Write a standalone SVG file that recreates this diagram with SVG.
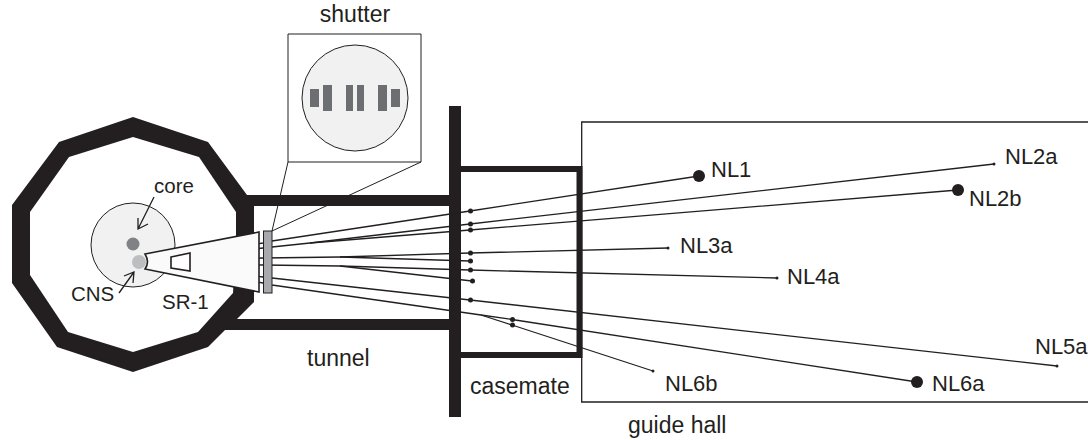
<svg xmlns="http://www.w3.org/2000/svg" width="1088" height="440" viewBox="0 0 1088 440">
<style>
text{font-family:"Liberation Sans",Arial,sans-serif;font-size:22px;fill:#231f20}
.s{font-size:20.5px}
.m{font-size:23px}
.l{stroke:#231f20;stroke-width:1.3;fill:none}
.t{stroke:#231f20;stroke-width:1;fill:none}
.d{fill:#231f20}
.k{fill:#231f20}
.b{fill:#6d6e71}
</style>
<rect width="1088" height="440" fill="#fff"/>
<g id="reactor">
<polygon class="k" points="133,117 208,142 247,195 452,195 452,330 225,330 208,347 133,372 57,347 12,283 12,205 59,142"/>
<polygon fill="#fff" points="133,137 199,157 236,212 236,240 233,293 198,332 133,352 68,332 30,275 30,212 69,157"/>
<polygon fill="#fff" points="254,206 452,206 452,319 237,319 254,302"/>
<circle cx="133" cy="245" r="42" fill="#f1f1f2" stroke="#231f20" stroke-width="1"/>
<circle cx="133" cy="244" r="6.500" fill="#808285"/>
</g>
<g id="guide-hall">
<polyline class="l" points="1088,122 581.700,122 581.700,402 1088,402"/>
</g>
<g id="casemate">
<rect x="449" y="106" width="12" height="311" class="k"/>
<rect x="458" y="169" width="121.500" height="186" fill="none" stroke="#231f20" stroke-width="6"/>
</g>
<g id="connectors">
<polyline class="l" points="193,254 263,243 272,241 470,211 699,176"/>
<polyline class="l" points="193,256 263,248 272,247 310,243 470,224 994,164"/>
<polyline class="l" points="310,243 470,230 958,190"/>
<polyline class="l" points="193,260 263,258 340,257 470,253 668,248"/>
<polyline class="l" points="340,257 470,261"/>
<polyline class="l" points="193,264 263,265 340,266 470,270 777,278"/>
<polyline class="l" points="340,266 472,281"/>
<polyline class="l" points="193,268 263,277 272,278 470,300 1057,366"/>
<polyline class="l" points="193,271 263,283 272,285 481,315 512,319.500 917,382"/>
<polyline class="l" points="481,315 512,325 653,371"/>
<path class="t" d="M288,34H421V162H288ZM288,162L272,231M421,162L272,231"/>
<path class="l" d="M154,197L138,229M138,218L138,229L148,224"/>
<path class="l" d="M119,293L134,272M124,276L134,272L133,283"/>
</g>
<g id="sr1-cone">
<path d="M145,254L259,232V292L145,269Q150,262 145,254Z" fill="#fafafa" stroke="#231f20" stroke-width="1.600"/>
<polygon points="171,257 190,253 190,271 171,268" fill="#fff" stroke="#231f20" stroke-width="1.600"/>
<circle cx="139" cy="262" r="7" fill="#bcbec0"/>
</g>
<g id="shutter-bar"><rect x="263.500" y="231" width="8.500" height="62" fill="#a7a9ac" stroke="#231f20" stroke-width="1"/></g>
<g id="shutter">
<circle cx="355" cy="98" r="53" fill="#f1f1f2" stroke="#231f20" stroke-width="1"/>
<rect class="b" x="310" y="89" width="9" height="18"/><rect class="b" x="323" y="85" width="9" height="26"/>
<rect class="b" x="346" y="85" width="7" height="26"/><rect class="b" x="357" y="85" width="7" height="26"/>
<rect class="b" x="378" y="85" width="9" height="26"/><rect class="b" x="391" y="89" width="9" height="18"/>
<text class="m" x="355" y="22" text-anchor="middle">shutter</text>
</g>
<g id="dots">
<circle class="d" cx="470.500" cy="211" r="2.500"/><circle class="d" cx="470.500" cy="224" r="2.500"/><circle class="d" cx="470.500" cy="230" r="2.500"/><circle class="d" cx="470.500" cy="253" r="2.500"/><circle class="d" cx="470.500" cy="261" r="2.500"/><circle class="d" cx="470.500" cy="270" r="2.500"/><circle class="d" cx="472.500" cy="281" r="2.500"/><circle class="d" cx="470.500" cy="300" r="2.500"/><circle class="d" cx="512.500" cy="319.500" r="2.500"/><circle class="d" cx="512.500" cy="325" r="2.500"/>
<circle class="d" cx="699" cy="176" r="6"/><circle class="d" cx="958" cy="190" r="6"/><circle class="d" cx="917" cy="382" r="6"/>
<circle class="d" cx="994" cy="164" r="1.500"/><circle class="d" cx="668" cy="248" r="1.500"/><circle class="d" cx="777" cy="278" r="1.500"/><circle class="d" cx="1057" cy="366" r="1.500"/><circle class="d" cx="653" cy="371" r="1.500"/>
</g>
<g id="labels">
<text class="s" x="154" y="193">core</text><text class="s" x="71" y="301">CNS</text><text class="s" x="162" y="309">SR-1</text>
<text class="m" x="307" y="366">tunnel</text><text class="m" x="470" y="394">casemate</text><text class="m" x="628" y="433">guide hall</text>
<text x="711" y="177">NL1</text><text x="1005" y="164">NL2a</text><text x="969" y="206">NL2b</text><text x="680" y="253">NL3a</text><text x="787" y="284">NL4a</text><text x="1035" y="354">NL5a</text><text x="932" y="391">NL6a</text><text x="665" y="391">NL6b</text>
</g>
</svg>
